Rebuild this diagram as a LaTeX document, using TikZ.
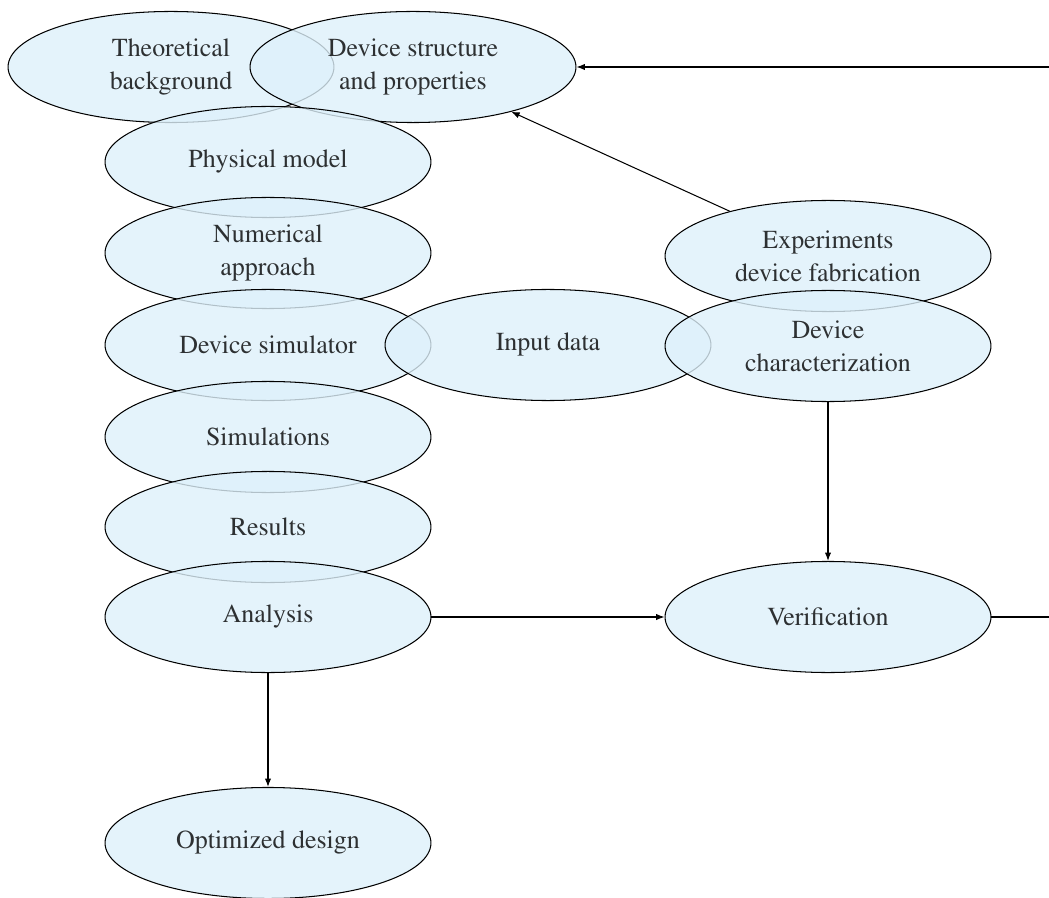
\documentclass[tikz,border=0pt]{standalone}
\usepackage[T1]{fontenc}
\usepackage{mathptmx}
\usetikzlibrary{shapes.geometric,arrows.meta}
\definecolor{nodefill}{RGB}{222,241,251}
\tikzset{
  blob/.style={ellipse, draw=black, fill=nodefill, fill opacity=0.8, draw opacity=1,
    text=black, minimum width=125.6pt, minimum height=42.8pt, inner sep=1pt,
    align=center, font=\fontsize{10}{12.7}\selectfont},
  link/.style={draw=black, line width=0.4pt, -{Latex[length=3.2pt,width=2.4pt]}}
}
\begin{document}
\begin{tikzpicture}[x=0.3854pt, y=-0.3854pt]
\clip (0,0) rectangle (1049,898);
\fill[white] (0,0) rectangle (1049,898);
\node[blob] (theo) at (171,67) {Theoretical\\background};
\node[blob] (dsp) at (413,67) {Device structure\\and properties};
\node[blob] (phys) at (268,162) {Physical model};
\node[blob] (num) at (268,253) {Numerical\\approach};
\node[blob] (sim) at (268,345) {Device simulator};
\node[blob] (input) at (548,345) {Input data};
\node[blob] (exp) at (828,256) {Experiments\\device fabrication};
\node[blob] (char) at (828,346) {Device\\characterization};
\node[blob] (simu) at (268,437) {Simulations};
\node[blob] (res) at (268,527) {Results};
\node[blob] (ana) at (268,617) {Analysis};
\node[blob] (ver) at (828,617) {Verification};
\node[blob] (opt) at (268,843) {Optimized design};
\coordinate (turn) at (1120,617);
\draw[link] (exp) -- (dsp);
\draw[link] (char) -- (ver);
\draw[link] (ana) -- (ver);
\draw[link] (ana) -- (opt);
\draw[link] (ver.east) -- (turn) |- (dsp.east);
\end{tikzpicture}
\end{document}
